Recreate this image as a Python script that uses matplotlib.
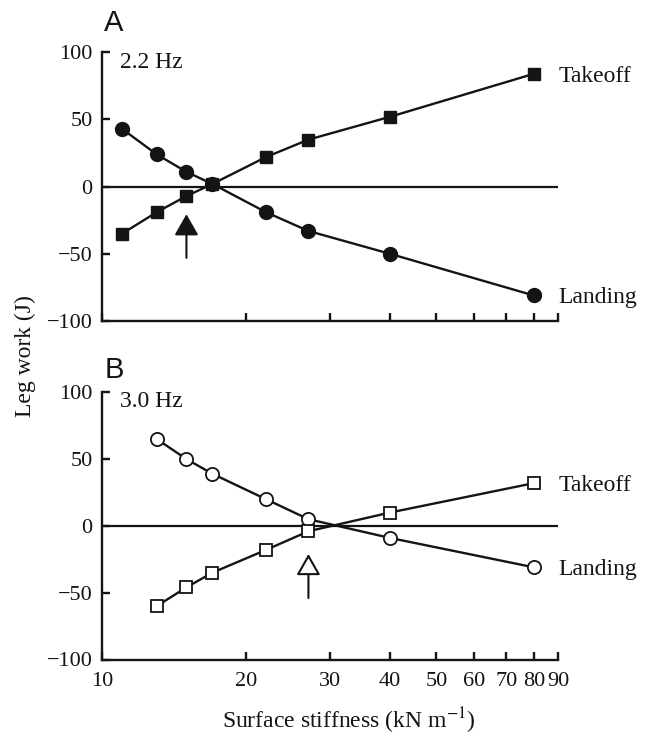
import matplotlib
matplotlib.use("Agg")
import matplotlib.pyplot as plt
from matplotlib.ticker import FixedLocator, NullLocator, FixedFormatter

# ---- data ----
x_a = [11, 13, 15, 17, 22, 27, 40, 80]
takeoff_a = [-35, -19, -7, 2, 22, 35, 52, 84]
landing_a = [43, 24, 11, 2, -19, -33, -50, -81]

x_b = [13, 15, 17, 22, 27, 40, 80]
landing_b = [65, 50, 39, 20, 5, -9, -31]
takeoff_b = [-60, -46, -35, -18, -4, 10, 32]

xticks = [10, 20, 30, 40, 50, 60, 70, 80, 90]
xticklabels = ["10", "20", "30", "40", "50", "60", "70", "80", "90"]
yticks = [-100, -50, 0, 50, 100]

freq_labels = ["2.2 Hz", "3.0 Hz"]
panel_labels = ["A", "B"]
arrow_x = [15, 27]
arrow_y = [(-53, -20.5), (-54, -21)]

plt.rcParams["font.family"] = ["Liberation Serif", "DejaVu Serif"]
plt.rcParams["mathtext.fontset"] = "stix"
plt.rcParams["axes.unicode_minus"] = True

W, H = 651, 736
fig = plt.figure(figsize=(W / 100, H / 100), dpi=100)

left = 102.3 / W
width = (558.3 - 102.3) / W
axA = fig.add_axes([left, 1 - 321 / H, width, (321 - 52.3) / H])
axB = fig.add_axes([left, 1 - 659.5 / H, width, (659.5 - 392.3) / H])

TICK_FS = 16
LABEL_FS = 17
INK = "#141414"
LW = 1.7

for ax in (axA, axB):
    ax.set_xscale("log")
    ax.set_xlim(10, 90)
    ax.set_ylim(-100, 100)
    ax.spines["top"].set_visible(False)
    ax.spines["right"].set_visible(False)
    ax.spines["left"].set_linewidth(LW)
    ax.spines["bottom"].set_linewidth(LW)
    ax.spines["left"].set_color(INK)
    ax.spines["bottom"].set_color(INK)
    ax.xaxis.set_major_locator(FixedLocator(xticks))
    ax.xaxis.set_minor_locator(NullLocator())
    ax.set_yticks(yticks)
    ax.set_yticklabels([str(v).replace("-", "\u2212") for v in yticks])
    ax.tick_params(axis="both", which="major", direction="in", length=6,
                   width=LW, labelsize=TICK_FS, color=INK, labelcolor=INK)
    ax.tick_params(axis="y", pad=7)
    ax.tick_params(axis="x", pad=9)
    ax.axhline(0, color=INK, lw=1.6, zorder=1)

axA.xaxis.set_major_formatter(FixedFormatter([""] * len(xticks)))
axB.xaxis.set_major_formatter(FixedFormatter(xticklabels))

# Panel A
axA.plot(x_a, takeoff_a, color=INK, lw=LW, marker="s", ms=8.5,
         mfc=INK, mec=INK, zorder=3)
axA.plot(x_a, landing_a, color=INK, lw=LW, marker="o", ms=10,
         mfc=INK, mec=INK, zorder=3)

# Panel B
axB.plot(x_b, landing_b, color=INK, lw=LW, marker="o", ms=9.5,
         mfc="white", mec=INK, mew=1.3, zorder=3)
axB.plot(x_b, takeoff_b, color=INK, lw=LW, marker="s", ms=8,
         mfc="white", mec=INK, mew=1.3, zorder=3)

# end labels
for ax, xs, tk, ld in ((axA, x_a, takeoff_a, landing_a), (axB, x_b, takeoff_b, landing_b)):
    ax.annotate("Takeoff", xy=(xs[-1], tk[-1]), xytext=(18, 0),
                textcoords="offset points", ha="left", va="center_baseline",
                fontsize=LABEL_FS, color=INK, annotation_clip=False)
    ax.annotate("Landing", xy=(xs[-1], ld[-1]), xytext=(18, 0),
                textcoords="offset points", ha="left", va="center_baseline",
                fontsize=LABEL_FS, color=INK, annotation_clip=False)

# frequency labels
fig.text(120.5 / W, 1 - 68.3 / H, freq_labels[0], fontsize=LABEL_FS,
         ha="left", va="baseline", color=INK)
fig.text(120.5 / W, 1 - 406.7 / H, freq_labels[1], fontsize=LABEL_FS,
         ha="left", va="baseline", color=INK)

# arrows
for ax, ax_x, (y0, y1), fc in ((axA, arrow_x[0], arrow_y[0], INK),
                                (axB, arrow_x[1], arrow_y[1], "white")):
    ax.annotate("", xy=(ax_x, y1), xytext=(ax_x, y0),
                arrowprops=dict(arrowstyle="-|>,head_length=0.65,head_width=0.37",
                                mutation_scale=20, lw=1.5, color=INK,
                                fc=fc, ec=INK, shrinkA=0, shrinkB=0),
                zorder=4)

# panel letters
fig.text(104 / W, 1 - 31 / H, panel_labels[0], fontsize=21,
         family=["Liberation Sans", "DejaVu Sans"], ha="left", va="baseline", color=INK)
fig.text(104.5 / W, 1 - 378.3 / H, panel_labels[1], fontsize=21,
         family=["Liberation Sans", "DejaVu Sans"], ha="left", va="baseline", color=INK)

# axis labels
fig.text(25 / W, 1 - 356 / H, "Leg work (J)", rotation=90, ha="center",
         va="center", fontsize=LABEL_FS, color=INK)
fig.text(349 / W, 1 - 728 / H, "Surface stiffness (kN m$^{\u22121}$)",
         ha="center", va="baseline", fontsize=LABEL_FS, color=INK)

fig.savefig("out.png", dpi=100, facecolor="white")
